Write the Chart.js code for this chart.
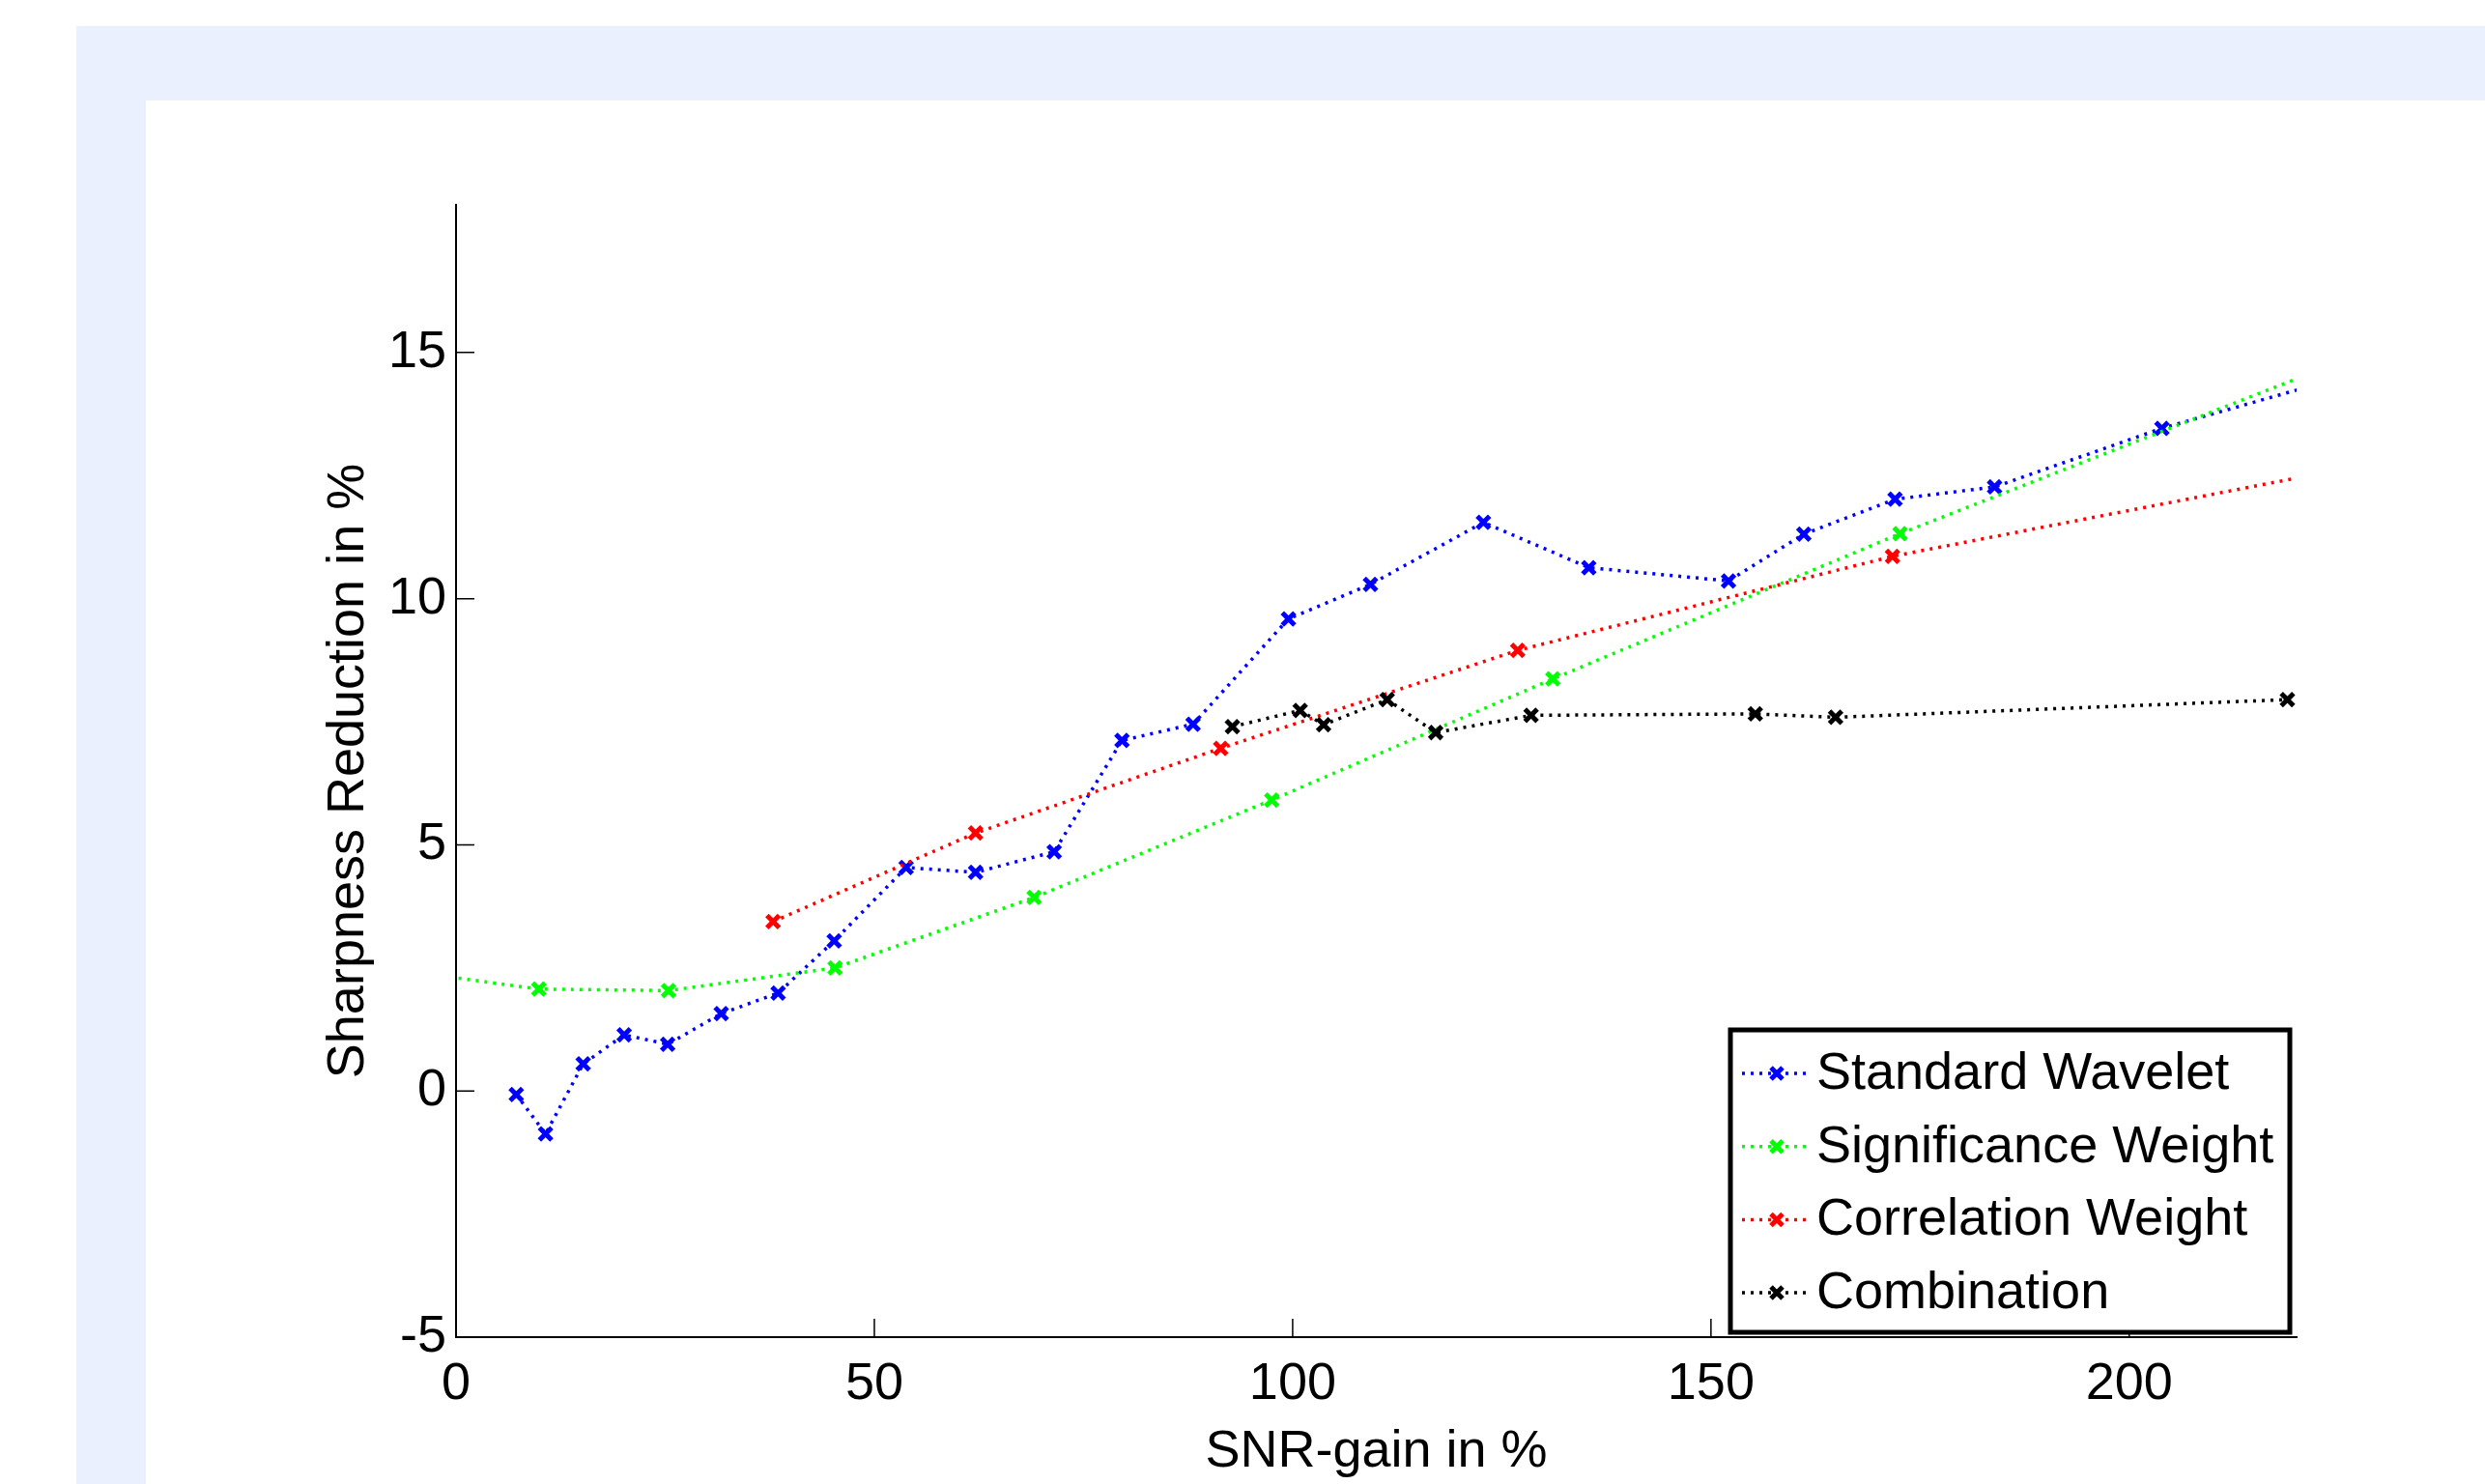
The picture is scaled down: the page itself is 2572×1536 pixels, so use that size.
<!DOCTYPE html>
<html>
<head>
<meta charset="utf-8">
<title>Sharpness Reduction vs SNR-gain</title>
<script src="https://cdn.jsdelivr.net/npm/chart.js@4.4.1/dist/chart.umd.min.js"></script>
<style>
  html, body { margin: 0; padding: 0; background: #fff; }
  body { width: 2572px; height: 1536px; position: relative; overflow: hidden; }
  #frame { position: absolute; left: 79px; top: 27px; right: 0; bottom: 0; background: #eaf0fd; }
  #panel { position: absolute; left: 151px; top: 104px; width: 2421px; height: 1432px; background: #fff; }
</style>
</head>
<body>
<div id="frame"></div>
<div id="panel"><canvas id="myChart" width="2421" height="1432"></canvas></div>
<script>
'use strict';

const fontFamily = '"Liberation Sans", Arial, Helvetica, sans-serif';

const xTicks = [0, 50, 100, 150, 200];
const yTicks = [-5, 0, 5, 10, 15];

const seriesNames = ['Standard Wavelet', 'Significance Weight', 'Correlation Weight', 'Combination'];
const seriesColors = ['#0000ff', '#00ff00', '#ff0000', '#000000'];

// SNR-gain (x) and sharpness reduction (y), in %
const waveletX = [7.2, 10.7, 15.2, 20.1, 25.3, 31.7, 38.5, 45.2, 53.8, 62.1, 71.5, 79.6, 88.1, 99.5, 109.3, 122.8, 135.4, 152.1, 161.1, 172.0, 183.9, 203.9, 230];
const waveletY = [-0.07, -0.87, 0.55, 1.14, 0.95, 1.57, 1.99, 3.05, 4.54, 4.44, 4.86, 7.12, 7.45, 9.59, 10.29, 11.55, 10.63, 10.36, 11.31, 12.02, 12.27, 13.46, 14.72];

const significanceX = [-10, 9.9, 25.4, 45.3, 69.1, 97.5, 131.1, 172.6, 230];
const significanceY = [2.53, 2.07, 2.04, 2.50, 3.93, 5.91, 8.37, 11.32, 15.13];

const correlationX = [37.9, 62.1, 91.4, 126.9, 171.7, 230];
const correlationY = [3.44, 5.24, 6.96, 8.95, 10.86, 12.78];

const combinationX = [92.8, 100.9, 103.7, 111.3, 117.1, 128.5, 155.3, 164.9, 218.9];
const combinationY = [7.40, 7.73, 7.44, 7.95, 7.28, 7.63, 7.66, 7.59, 7.95];

function toPoints(xs, ys) {
  return xs.map((x, i) => ({ x: x, y: ys[i] }));
}

function makeDataset(i, xs, ys) {
  return {
    label: seriesNames[i],
    data: toPoints(xs, ys),
    showLine: true,
    borderColor: seriesColors[i],
    backgroundColor: seriesColors[i],
    borderWidth: 3.5,
    borderDash: [3, 6],
    pointStyle: 'crossRot',
    pointRadius: 9,
    pointHoverRadius: 9,
    pointBorderWidth: 5,
    tension: 0,
    clip: 0,
    order: 4 - i, // later series on top, like the original
  };
}

// MATLAB style tick marks pointing into the plot
const inwardTicks = {
  id: 'inwardTicks',
  afterDatasetsDraw(chart) {
    const { ctx, chartArea, scales } = chart;
    ctx.save();
    ctx.strokeStyle = '#000';
    ctx.lineWidth = 1.5;
    ctx.setLineDash([]);
    ctx.beginPath();
    xTicks.forEach(v => {
      const px = scales.x.getPixelForValue(v);
      ctx.moveTo(px, chartArea.bottom);
      ctx.lineTo(px, chartArea.bottom - 19);
    });
    yTicks.forEach(v => {
      const py = scales.y.getPixelForValue(v);
      ctx.moveTo(chartArea.left, py);
      ctx.lineTo(chartArea.left + 19, py);
    });
    ctx.stroke();
    ctx.restore();
  }
};

// boxed legend in the lower right corner of the plot
const boxLegend = {
  id: 'boxLegend',
  afterDraw(chart) {
    const { ctx, chartArea } = chart;
    const w = 579;
    const h = 313;
    const left = chartArea.right - 7 - w;
    const top = chartArea.bottom - 5 - h;
    ctx.save();
    ctx.fillStyle = '#fff';
    ctx.fillRect(left, top, w, h);
    ctx.lineWidth = 5;
    ctx.strokeStyle = '#000';
    ctx.setLineDash([]);
    ctx.strokeRect(left, top, w, h);
    ctx.font = '54px ' + fontFamily;
    ctx.textBaseline = 'middle';
    ctx.textAlign = 'left';
    chart.data.datasets.forEach((ds, i) => {
      const cy = top + 45 + i * 75.7;
      const cx = left + 48;
      ctx.strokeStyle = ds.borderColor;
      ctx.lineWidth = ds.borderWidth;
      ctx.setLineDash(ds.borderDash);
      ctx.beginPath();
      ctx.moveTo(left + 12, cy);
      ctx.lineTo(left + 80, cy);
      ctx.stroke();
      ctx.setLineDash([]);
      ctx.lineWidth = ds.pointBorderWidth;
      const r = 6;
      ctx.beginPath();
      ctx.moveTo(cx - r, cy - r);
      ctx.lineTo(cx + r, cy + r);
      ctx.moveTo(cx - r, cy + r);
      ctx.lineTo(cx + r, cy - r);
      ctx.stroke();
      ctx.fillStyle = '#000';
      ctx.fillText(ds.label, left + 89, cy + 1);
    });
    ctx.restore();
  }
};

function renderChart() {
  const data = {
    datasets: [
      makeDataset(0, waveletX, waveletY),
      makeDataset(1, significanceX, significanceY),
      makeDataset(2, correlationX, correlationY),
      makeDataset(3, combinationX, combinationY),
    ],
  };

  const tickFont = { family: fontFamily, size: 54 };

  const config = {
    type: 'scatter',
    data: data,
    options: {
      responsive: false,
      animation: false,
      events: [],
      layout: { padding: { left: 0, top: 108, right: 195, bottom: 0 } },
      plugins: {
        legend: { display: false },
        tooltip: { enabled: false },
      },
      scales: {
        x: {
          type: 'linear',
          min: 0,
          max: 220,
          afterBuildTicks: (scale) => { scale.ticks = xTicks.map(v => ({ value: v })); },
          afterFit: (scale) => { scale.height = 152; },
          grid: { display: false },
          border: { display: true, color: '#000', width: 2 },
          ticks: { color: '#000', font: tickFont, padding: 9, maxRotation: 0, autoSkip: false },
          title: {
            display: true,
            text: 'SNR-gain in %',
            color: '#000',
            font: tickFont,
            padding: { top: 0, bottom: 0 },
          },
        },
        y: {
          type: 'linear',
          min: -5,
          max: 18,
          afterBuildTicks: (scale) => { scale.ticks = yTicks.map(v => ({ value: v })); },
          afterFit: (scale) => { scale.width = 321; },
          grid: { display: false },
          border: { display: true, color: '#000', width: 2 },
          ticks: { color: '#000', font: tickFont, padding: 2, autoSkip: false },
          title: {
            display: true,
            text: 'Sharpness Reduction in %',
            color: '#000',
            font: tickFont,
            padding: { top: 178, bottom: 0 },
          },
        },
      },
    },
    plugins: [inwardTicks, boxLegend],
  };

  const canvasChart = document.getElementById('myChart');
  new Chart(canvasChart, config);
}

renderChart();
</script>
</body>
</html>
